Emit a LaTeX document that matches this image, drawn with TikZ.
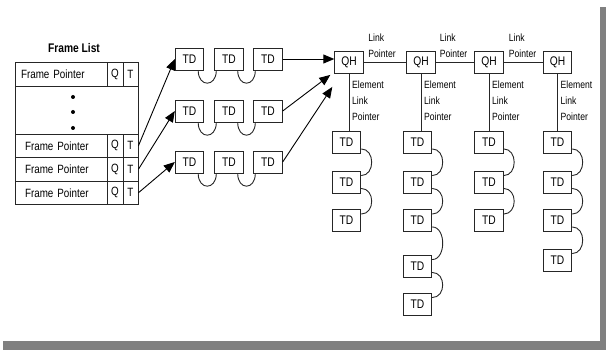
\documentclass[tikz,border=0pt]{standalone}
\usepackage{fontspec}
\setmainfont{Liberation Sans}[FakeStretch=0.82]
\usetikzlibrary{arrows.meta,calc}
\begin{document}
\begin{tikzpicture}[x=1pt,y=-1pt,
  box/.style={draw=black!85, line width=0.9pt, fill=white, inner sep=0pt, minimum width=28.5pt, minimum height=22pt, font=\fontsize{12.5}{14}\selectfont},
  cell/.style={draw=black!85, line width=0.9pt, inner sep=0pt, font=\fontsize{12}{14}\selectfont},
  fpcell/.style={cell, text width=80pt, align=left, inner xsep=6pt, minimum height=23.5pt},
  lbl/.style={inner sep=0pt, align=left, font=\fontsize{10.5}{16}\selectfont, anchor=north west},
  arr/.style={-{Triangle[length=11pt,width=9pt]}, line width=0.9pt, draw=black},
  link/.style={line width=0.9pt, draw=black!85},
  hook/.style={line width=0.9pt, draw=black!85}
]
\useasboundingbox (0,0) rectangle (606,350);
% drop shadow
\fill[gray] (600,7) rectangle (606,350);
\fill[gray] (3,341) rectangle (606,350);

% Frame list table
\node[font=\bfseries\fontsize{12.5}{14}\selectfont] (title) at (74,48) {Frame List};
\node[fpcell, minimum height=24pt] (fp0) at (61,74) {Frame Pointer};
\node[cell, minimum width=16pt, minimum height=24pt] (q0) at (115,74) {Q};
\node[cell, minimum width=15pt, minimum height=24pt] (t0) at (130.5,74) {T};
\node[cell, minimum width=123pt, minimum height=48pt] (dots) at (76.5,110) {};
\fill (73,97) circle (2pt) (73,112) circle (2pt) (73,128) circle (2pt);
\foreach \i/\y in {1/145.75,2/169.25,3/192.75}{
  \node[fpcell] (fp\i) at (61,\y) {\hspace{4pt}Frame Pointer};
  \node[cell, minimum width=16pt, minimum height=23.5pt] (q\i) at (115,\y) {Q};
  \node[cell, minimum width=15pt, minimum height=23.5pt] (t\i) at (130.5,\y) {T};
}

% TD rows
\foreach \r/\y in {1/59,2/111,3/162}{
  \node[box] (r\r a) at (189.5,\y) {TD};
  \node[box] (r\r b) at (229,\y) {TD};
  \node[box] (r\r c) at (268,\y) {TD};
  \draw[hook] ([xshift=-6pt]r\r a.south east) .. controls +(0,17) and +(0,17) .. ([xshift=2pt]r\r b.south west);
  \draw[hook] ([xshift=-6pt]r\r b.south east) .. controls +(0,17) and +(0,17) .. ([xshift=2pt]r\r c.south west);
}

% QH heads
\node[box] (qh1) at (349,62.5) {QH};
\node[box] (qh2) at (421,62.5) {QH};
\node[box] (qh3) at (489,62.5) {QH};
\node[box] (qh4) at (557.5,62.5) {QH};
\draw[link] (qh1.east) -- (qh2.west);
\draw[link] (qh2.east) -- (qh3.west);
\draw[link] (qh3.east) -- (qh4.west);

\node[lbl] (lp1) at ($(qh1.east)+(4.5,-29)$) {Link\\Pointer};
\node[lbl] (lp2) at ($(qh2.east)+(4,-29)$) {Link\\Pointer};
\node[lbl] (lp3) at ($(qh3.east)+(5,-29)$) {Link\\Pointer};

% columns of TDs
\foreach \y [count=\k] in {142.5,182,220.5}{ \node[box] (c1\k) at (346.5,\y) {TD}; }
\foreach \y [count=\k] in {142.5,182,220.5,266,304}{ \node[box] (c2\k) at (417.5,\y) {TD}; }
\foreach \y [count=\k] in {142.5,182,220.5}{ \node[box] (c3\k) at (489,\y) {TD}; }
\foreach \y [count=\k] in {142.5,182,220.5,260}{ \node[box] (c4\k) at (557.5,\y) {TD}; }

\foreach \c in {1,2,3,4}{
  \draw[link] (qh\c.south) -- (qh\c.south |- c\c1.north);
  \node[lbl] (el\c) at ($(qh\c.south)+(3,6.5)$) {Element\\Link\\Pointer};
}
\foreach \c/\n in {1/2,2/4,3/2,4/3}{
  \foreach \k in {1,...,\n}{
    \pgfmathtruncatemacro{\nk}{\k+1}
    \draw[hook] ([yshift=5pt]c\c\k.south east) .. controls +(14,0) and +(14,0) .. ([yshift=-5pt]c\c\nk.north east);
  }
}

% arrows
\draw[arr] (t1.east) -- (r1a.west);
\draw[arr] (t2.east) -- (r2a.west);
\draw[arr] (t3.east) -- (r3a.west);
\coordinate (e2) at ($(qh1.south west)+(-4,1)$);
\coordinate (e3) at ($(qh1.south west)+(-2,13)$);
\draw[arr] (r1c.east) -- (r1c.east -| qh1.west);
\draw[arr] (r2c.east) -- (e2);
\draw[arr] (r3c.east) -- (e3);
\end{tikzpicture}
\end{document}
